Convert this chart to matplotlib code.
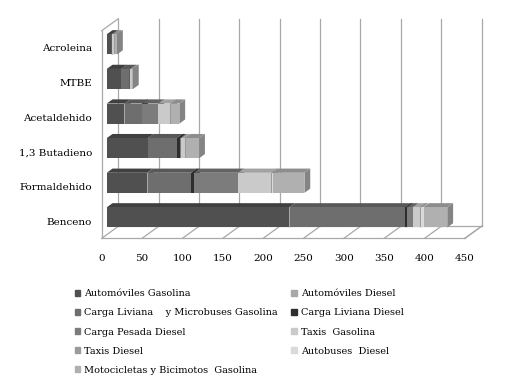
import numpy as np
import matplotlib
matplotlib.use("Agg")
import matplotlib.pyplot as plt
from matplotlib.patches import Polygon, Patch
from matplotlib.transforms import IdentityTransform, ScaledTranslation

plt.rcParams['font.family'] = ['DejaVu Serif']

categories = ['Benceno', 'Formaldehido', '1,3 Butadieno', 'Acetaldehido', 'MTBE', 'Acroleina']

series_names = ['Automóviles Gasolina', 'Automóviles Diesel',
                'Carga Liviana    y Microbuses Gasolina', 'Carga Liviana Diesel',
                'Carga Pesada Diesel', 'Taxis  Gasolina', 'Taxis Diesel',
                'Autobuses  Diesel', 'Motocicletas y Bicimotos  Gasolina']

auto_gas = [226, 50, 51, 22, 18, 6]
auto_diesel = [1, 1, 0.5, 0.5, 0.3, 0.2]
carga_liv_gas = [143, 54, 36, 21, 10, 0.5]
carga_liv_diesel = [2, 3, 3, 0.5, 0.3, 0.1]
carga_pes_diesel = [7, 55, 1.5, 20, 0.5, 0.2]
taxis_gas = [9, 41, 5, 15, 2, 2.5]
taxis_diesel = [2, 1, 1, 0.5, 0.2, 0.2]
autobuses_diesel = [3, 1, 0.5, 0.5, 0.2, 0.1]
motos_gas = [29, 39, 16, 10, 1, 3]

series = [auto_gas, auto_diesel, carga_liv_gas, carga_liv_diesel, carga_pes_diesel,
          taxis_gas, taxis_diesel, autobuses_diesel, motos_gas]
colors = ['#505050', '#a8a8a8', '#6e6e6e', '#2e2e2e', '#7c7c7c',
          '#cacaca', '#9a9a9a', '#dadada', '#b0b0b0']

xticks = np.arange(0, 451, 50)

fig = plt.figure(figsize=(5.14, 3.87), dpi=100)
ax = fig.add_axes([0.1979, 0.3842, 0.7066, 0.5365])
ax.set_xlim(0, 450)
ax.set_ylim(-0.5, len(categories) - 0.5)
for s in ax.spines.values():
    s.set_visible(False)
ax.set_xticks(xticks)
ax.set_yticks(range(len(categories)))
ax.set_yticklabels(categories, fontsize=7.5)
ax.tick_params(length=0)
ax.tick_params(axis='x', pad=11, labelsize=7.5)
ax.tick_params(axis='y', pad=7)

# oblique depth offset in pixels for the full depth of the chart
DX, DY = 16.6, 12.0
d_front, d_back = 0.3, 0.65
bar_h = 0.58
grid_c = '#a8a8a8'


def P(x, y, d):
    p = ax.transData.transform((x, y))
    return (p[0] + d * DX, p[1] + d * DY)


def poly(pts, fc, ec='none', lw=0.0, z=2):
    ax.add_patch(Polygon(pts, closed=True, facecolor=fc, edgecolor=ec, linewidth=lw,
                         transform=IdentityTransform(), clip_on=False, zorder=z))


def line(p1, p2, z=1):
    ax.add_line(plt.Line2D([p1[0], p2[0]], [p1[1], p2[1]], color=grid_c, lw=0.9,
                           transform=IdentityTransform(), clip_on=False, zorder=z))


y0, y1 = -0.5, len(categories) - 0.5
# back wall gridlines and floor lines
for t in xticks:
    line(P(t, y0, 1), P(t, y1, 1))
    line(P(t, y0, 0), P(t, y0, 1))
# floor outline and left wall
line(P(0, y0, 0), P(450, y0, 0))
line(P(450, y0, 0), P(450, y0, 1))
line(P(0, y0, 1), P(450, y0, 1))
line(P(0, y0, 0), P(0, y1, 0))
line(P(0, y1, 0), P(0, y1, 1))


def shade(c, f):
    r, g, b = matplotlib.colors.to_rgb(c)
    return (r * f, g * f, b * f)


front_off = ax.transData + ScaledTranslation(d_front * DX / 100, d_front * DY / 100,
                                              fig.dpi_scale_trans)
left = np.zeros(len(categories))
z = 3
for vals, c in zip(series, colors):
    vals = np.array(vals, dtype=float)
    ax.barh(range(len(categories)), vals, left=left, height=bar_h, color=c,
            transform=front_off, zorder=z + 2)
    for i in range(len(categories)):
        xa, xb = left[i], left[i] + vals[i]
        yb, yt = i - bar_h / 2, i + bar_h / 2
        poly([P(xa, yt, d_front), P(xb, yt, d_front), P(xb, yt, d_back), P(xa, yt, d_back)],
             shade(c, 0.8), z=z + 1)
        poly([P(xb, yb, d_front), P(xb, yt, d_front), P(xb, yt, d_back), P(xb, yb, d_back)],
             shade(c, 0.75), z=z)
    left = left + vals
    z += 3

handles = [Patch(color=c, label=n) for c, n in zip(colors, series_names)]
order = [0, 2, 4, 6, 8, 1, 3, 5, 7]
fig.legend([handles[k] for k in order], [series_names[k] for k in order],
           loc='upper left', bbox_to_anchor=(0.145, 0.252), ncol=2, frameon=False,
           fontsize=7, handlelength=0.6, handleheight=0.6, handletextpad=0.35,
           labelspacing=1.03, columnspacing=1.45, borderaxespad=0, borderpad=0)

fig.savefig('out.png', dpi=100)
